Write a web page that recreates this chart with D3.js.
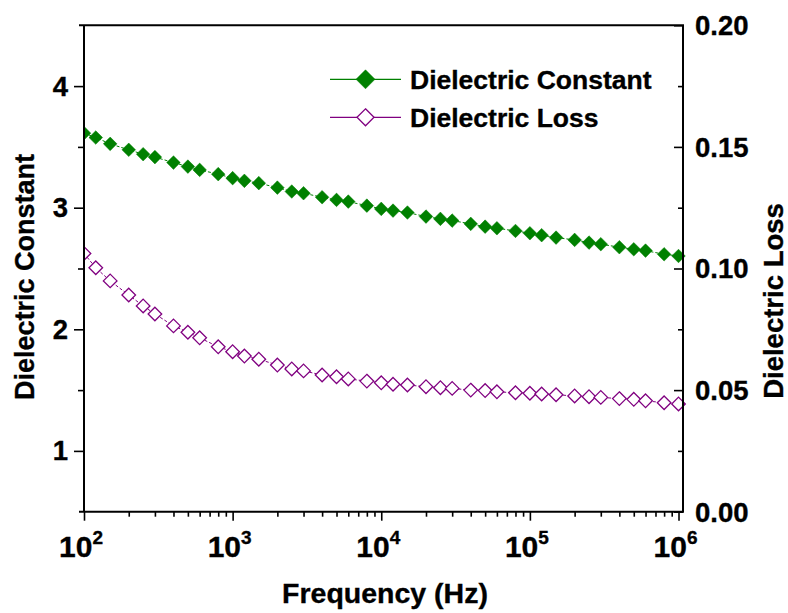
<!DOCTYPE html>
<html>
<head>
<meta charset="utf-8">
<script src="https://cdn.jsdelivr.net/npm/d3@7"></script>
<style>
  html, body { margin: 0; padding: 0; background: #fff; }
  svg { display: block; }
  text { font-family: "Liberation Sans", Arial, sans-serif; font-weight: bold; fill: #000; stroke: #000; stroke-width: 0.35px; }
</style>
</head>
<body>
<svg id="chart" width="788" height="613"></svg>
<script>
// Measurement frequencies (Hz)
const frequency = [
  100, 120, 150, 200, 250, 300, 400, 500, 600, 800,
  1e3, 1.2e3, 1.5e3, 2e3, 2.5e3, 3e3, 4e3, 5e3, 6e3, 8e3,
  1e4, 1.2e4, 1.5e4, 2e4, 2.5e4, 3e4, 4e4, 5e4, 6e4, 8e4,
  1e5, 1.2e5, 1.5e5, 2e5, 2.5e5, 3e5, 4e5, 5e5, 6e5, 8e5,
  1e6
];

// Dielectric constant (left axis)
const dielectricConstant = [
  3.613, 3.577, 3.525, 3.476, 3.440, 3.416, 3.371, 3.338, 3.311, 3.276,
  3.243, 3.221, 3.202, 3.165, 3.133, 3.119, 3.086, 3.064, 3.050, 3.017,
  2.990, 2.976, 2.960, 2.927, 2.908, 2.894, 2.867, 2.844, 2.831, 2.809,
  2.790, 2.774, 2.754, 2.735, 2.713, 2.700, 2.675, 2.658, 2.647, 2.617,
  2.603
];

// Dielectric loss (right axis)
const dielectricLoss = [
  0.1062, 0.1003, 0.0949, 0.0891, 0.0846, 0.0813, 0.0764, 0.0738, 0.0715, 0.0678,
  0.0658, 0.0640, 0.0627, 0.0603, 0.0587, 0.0579, 0.0562, 0.0555, 0.0546, 0.0537,
  0.0530, 0.0524, 0.0521, 0.0514, 0.0510, 0.0507, 0.0500, 0.0498, 0.0493, 0.0489,
  0.0487, 0.0484, 0.0481, 0.0476, 0.0473, 0.0470, 0.0465, 0.0462, 0.0456, 0.0448,
  0.0443
];

const seriesNames = ["Dielectric Constant", "Dielectric Loss"];
const leftTicks = [1, 2, 3, 4];
const rightTicks = [0.00, 0.05, 0.10, 0.15, 0.20];
const xTicks = [1e2, 1e3, 1e4, 1e5, 1e6];

const green = "#008000", purple = "#800080";
const L = 84, R = 683, T = 25.3, B = 511.7;

const svg = d3.select("#chart");

const x = d3.scaleLog().domain([100, 1.072e6]).range([L, R]);
const yL = d3.scaleLinear().domain([0.5, 4.5]).range([B, T]);
const yR = d3.scaleLinear().domain([0, 0.2]).range([B, T]);

// clip region for data marks
svg.append("defs").append("clipPath").attr("id", "plotclip")
  .append("rect").attr("x", L).attr("y", T - 10).attr("width", R - L + 10).attr("height", B - T + 10);

const diamond = s => `M0,${-s}L${s},0L0,${s}L${-s},0Z`;

function drawSeries(vals, yScale, color, filled) {
  const g = svg.append("g").attr("clip-path", "url(#plotclip)");
  const pts = frequency.map((f, i) => [x(f), yScale(vals[i])]);
  g.append("path")
    .attr("d", d3.line()(pts))
    .attr("fill", "none")
    .attr("stroke", color)
    .attr("stroke-width", 1)
    .attr("stroke-dasharray", "3,2");
  g.selectAll("path.m").data(pts).enter().append("path")
    .attr("class", "m")
    .attr("d", diamond(6.8))
    .attr("transform", d => `translate(${d[0]},${d[1]})`)
    .attr("fill", filled ? color : "#fff")
    .attr("stroke", color)
    .attr("stroke-width", filled ? 0.5 : 1.3);
}

drawSeries(dielectricLoss, yR, purple, false);
drawSeries(dielectricConstant, yL, green, true);

// Frame
const ax = svg.append("g").attr("stroke", "#000").attr("stroke-width", 2).attr("fill", "none");
ax.append("line").attr("x1", 79).attr("x2", R + 1).attr("y1", T).attr("y2", T);
ax.append("line").attr("x1", 79).attr("x2", R + 1).attr("y1", B).attr("y2", B);
ax.append("line").attr("x1", L).attr("x2", L).attr("y1", T).attr("y2", B);
ax.append("line").attr("x1", R).attr("x2", R).attr("y1", T).attr("y2", B);

// Bottom axis (log) ticks
const bottom = d3.axisBottom(x).tickValues(xTicks).tickSize(9).tickFormat("");
const gb = svg.append("g").attr("transform", `translate(0,${B})`).call(bottom);
gb.select(".domain").remove();
gb.selectAll("line").attr("stroke", "#000").attr("stroke-width", 1.6);
const minorX = [];
for (let d = 100; d < 1e6; d *= 10) for (let k = 2; k <= 9; k++) minorX.push(d * k);
const gbm = svg.append("g").attr("transform", `translate(0,${B})`)
  .call(d3.axisBottom(x).tickValues(minorX).tickSize(5).tickFormat(""));
gbm.select(".domain").remove();
gbm.selectAll("line").attr("stroke", "#000").attr("stroke-width", 1.6);

const expo = v => Math.round(Math.log10(v));
svg.append("g").selectAll("text").data(xTicks).enter().append("text")
  .attr("x", d => x(d) - 3)
  .attr("y", 556.5)
  .attr("text-anchor", "middle")
  .attr("font-size", 30)
  .each(function (d) {
    const t = d3.select(this);
    t.append("tspan").text("10");
    t.append("tspan").attr("font-size", 19).attr("dy", -13).text(expo(d));
  });

// Left axis
const gl = svg.append("g").attr("transform", `translate(${L},0)`)
  .call(d3.axisLeft(yL).tickValues(leftTicks).tickSize(10).tickFormat(""));
gl.select(".domain").remove();
gl.selectAll("line").attr("stroke", "#000").attr("stroke-width", 1.6);
const glm = svg.append("g").attr("transform", `translate(${L},0)`)
  .call(d3.axisLeft(yL).tickValues([1.5, 2.5, 3.5]).tickSize(6).tickFormat(""));
glm.select(".domain").remove();
glm.selectAll("line").attr("stroke", "#000").attr("stroke-width", 1.6);
svg.append("g").selectAll("text").data(leftTicks).enter().append("text")
  .attr("x", 68).attr("y", d => yL(d) + 9.5)
  .attr("text-anchor", "end").attr("font-size", 27.5)
  .text(d => d);

// Right axis (ticks point inward)
const gr = svg.append("g").attr("transform", `translate(${R},0)`)
  .call(d3.axisLeft(yR).tickValues(rightTicks).tickSize(9).tickFormat(""));
gr.select(".domain").remove();
gr.selectAll("line").attr("stroke", "#000").attr("stroke-width", 1.6);
const grm = svg.append("g").attr("transform", `translate(${R},0)`)
  .call(d3.axisLeft(yR).tickValues([0.025, 0.075, 0.125, 0.175]).tickSize(5).tickFormat(""));
grm.select(".domain").remove();
grm.selectAll("line").attr("stroke", "#000").attr("stroke-width", 1.6);
svg.append("g").selectAll("text").data(rightTicks).enter().append("text")
  .attr("x", 695).attr("y", d => yR(d) + 9.8)
  .attr("text-anchor", "start").attr("font-size", 27.5)
  .text(d => d3.format(".2f")(d));

// Axis titles
svg.append("text").attr("x", 385).attr("y", 603).attr("text-anchor", "middle")
  .attr("font-size", 28.5).text("Frequency (Hz)");
svg.append("text").attr("transform", "translate(34,277) rotate(-90)")
  .attr("text-anchor", "middle").attr("font-size", 27).text("Dielectric Constant");
svg.append("text").attr("transform", "translate(783,301) rotate(-90)")
  .attr("text-anchor", "middle").attr("font-size", 27.5).text("Dielectric Loss");

// Legend
const legend = [
  { name: seriesNames[0], color: green, filled: true, y: 79.3 },
  { name: seriesNames[1], color: purple, filled: false, y: 117.3 }
];
const lg = svg.append("g");
legend.forEach(d => {
  lg.append("line").attr("x1", 330).attr("x2", 401).attr("y1", d.y).attr("y2", d.y)
    .attr("stroke", d.color).attr("stroke-width", 1.2);
  lg.append("path").attr("d", diamond(d.filled ? 9.5 : 8.5))
    .attr("transform", `translate(365.5,${d.y})`)
    .attr("fill", d.filled ? d.color : "#fff")
    .attr("stroke", d.color).attr("stroke-width", d.filled ? 0.5 : 1.3);
  lg.append("text").attr("x", 410).attr("y", d.y + 9.5).attr("font-size", 26.5).text(d.name);
});
</script>
</body>
</html>
